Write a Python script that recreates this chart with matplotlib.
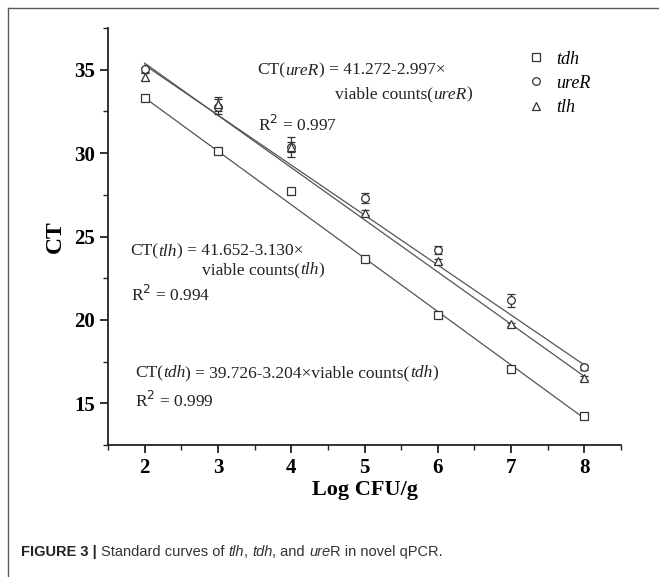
import matplotlib
matplotlib.use("Agg")
import matplotlib.pyplot as plt
import numpy as np
from matplotlib.lines import Line2D

# ---------------- data ----------------
log_cfu = [2, 3, 4, 5, 6, 7, 8]
ct_tdh = [33.28, 30.10, 27.70, 23.63, 20.32, 17.05, 14.26]
ct_ureR = [35.04, 32.78, 30.34, 27.30, 24.20, 21.18, 17.15]
ct_tlh = [34.58, 32.95, 30.35, 26.41, 23.51, 19.74, 16.49]
err_tdh = [0.10, 0.10, 0.10, 0.12, 0.12, 0.10, 0.10]
err_ureR = [0.15, 0.45, 0.30, 0.30, 0.25, 0.40, 0.15]
err_tlh = [0.20, 0.40, 0.60, 0.15, 0.15, 0.10, 0.12]

fit_intercept = {"tdh": 39.726, "ureR": 41.272, "tlh": 41.652}
fit_slope = {"tdh": -3.204, "ureR": -2.997, "tlh": -3.130}

x_ticks = [2, 3, 4, 5, 6, 7, 8]
y_ticks = [15, 20, 25, 30, 35]

SERIF = ["Liberation Serif", "DejaVu Serif"]
SANS = ["Liberation Sans Narrow", "Liberation Sans", "DejaVu Sans"]

fig = plt.figure(figsize=(6.59, 5.77), dpi=100)

# page frame (top and left edges only)
fig.add_artist(Line2D([7.5 / 659, 1.0], [1 - 8 / 577] * 2, transform=fig.transFigure,
                      color="#5a5a5a", lw=1.0))
fig.add_artist(Line2D([7.5 / 659] * 2, [0.0, 1 - 8 / 577], transform=fig.transFigure,
                      color="#5a5a5a", lw=1.0))

ax = fig.add_axes([108 / 659, 1 - 445 / 577, (621 - 108) / 659, (445 - 28) / 577])

series = [
    ("tdh", ct_tdh, err_tdh, "s"),
    ("ureR", ct_ureR, err_ureR, "o"),
    ("tlh", ct_tlh, err_tlh, "^"),
]

xs = np.array(log_cfu, dtype=float)
for name, ys, es, mk in series:
    xl = np.array([xs.min(), xs.max()])
    ax.plot(xl, fit_intercept[name] + fit_slope[name] * xl, color="#555555", lw=0.9, zorder=1)

for name, ys, es, mk in series:
    ax.errorbar(xs, ys, yerr=es, fmt=mk, ms=5.5, mfc="white",
                mec="#333333", mew=0.9, ecolor="#333333", elinewidth=0.9, capsize=2.8,
                capthick=0.9, zorder=3)

ax.set_xlim(1.5, 8.5)
ax.set_ylim(12.5, 37.5)
ax.set_xticks(x_ticks)
ax.set_yticks(y_ticks)
ax.set_xticks(np.arange(1.5, 8.6, 0.5), minor=True)
ax.set_yticks(np.arange(12.5, 37.6, 2.5), minor=True)
ax.spines["top"].set_visible(False)
ax.spines["right"].set_visible(False)
for s in ["left", "bottom"]:
    ax.spines[s].set_linewidth(1.3)
    ax.spines[s].set_color("#222222")
ax.tick_params(which="major", direction="out", length=6, width=1.3, color="#222222")
ax.tick_params(which="minor", direction="out", length=3.5, width=1.0, color="#222222")
for lab in ax.get_xticklabels() + ax.get_yticklabels():
    lab.set_family(SERIF)
    lab.set_fontweight("bold")
    lab.set_fontsize(15)

ax.set_xlabel("Log CFU/g", family=SERIF, fontweight="bold", fontsize=16, labelpad=1)
ax.set_ylabel("CT", family=SERIF, fontweight="bold", fontsize=17, labelpad=6)

# legend
handles = [Line2D([], [], ls="none", marker=mk, ms=5.5, mfc="white", mec="#333333", mew=0.9)
           for _, _, _, mk in series]
leg = ax.legend(handles, [s[0] for s in series], loc="upper left",
                bbox_to_anchor=(0.785, 0.985), frameon=False, handlelength=1.0,
                handletextpad=0.6, labelspacing=0.4,
                prop={"family": SERIF, "style": "italic", "size": 13})


def rich(x, y, parts, size=12.5):
    """Draw a sequence of (text, style) pieces next to each other on one baseline."""
    prev = None
    for txt, style in parts:
        kw = dict(family=SERIF, fontsize=size, ha="left", color="#222222")
        if style == "i":
            kw["style"] = "italic"
        if prev is None:
            prev = ax.annotate(txt, xy=(x, y), xycoords="data", va="baseline", **kw)
        else:
            prev = ax.annotate(txt, xy=(1, 0), xycoords=prev, va="bottom", **kw)
    return prev


rich(3.54, 34.70, [("CT(", "n"), ("ureR", "i"), (") = 41.272-2.997\u00d7", "n")])
rich(4.60, 33.25, [("viable counts(", "n"), ("ureR", "i"), (")", "n")])
rich(3.54, 31.35, [("R$^2$ = 0.997", "n")])

rich(1.81, 23.85, [("CT(", "n"), ("tlh", "i"), (") = 41.652-3.130\u00d7", "n")])
rich(2.78, 22.75, [("viable counts(", "n"), ("tlh", "i"), (")", "n")])
rich(1.81, 21.15, [("R$^2$ = 0.994", "n")])

rich(1.87, 16.58, [("CT(", "n"), ("tdh", "i"), (") = 39.726-3.204\u00d7viable counts(", "n"),
                   ("tdh", "i"), (")", "n")])
rich(1.87, 14.80, [("R$^2$ = 0.999", "n")])

# caption
cap_parts = [("FIGURE 3 | ", "b"), ("Standard curves of ", "n"), ("tlh", "i"), (", ", "n"),
             ("tdh", "i"), (", and ", "n"), ("ure", "i"), ("R in novel qPCR.", "n")]
prev = None
for txt, style in cap_parts:
    kw = dict(family=SANS, fontsize=10.5, ha="left", color="#333333")
    if style == "b":
        kw["fontweight"] = "bold"
        kw["color"] = "#222222"
    if style == "i":
        kw["style"] = "italic"
    if prev is None:
        prev = fig.text(21 / 659, 1 - 556 / 577, txt, va="baseline", **kw)
    else:
        prev = ax.annotate(txt, xy=(1, 0), xycoords=prev, va="bottom", **kw)

fig.savefig("out.png", dpi=100)
